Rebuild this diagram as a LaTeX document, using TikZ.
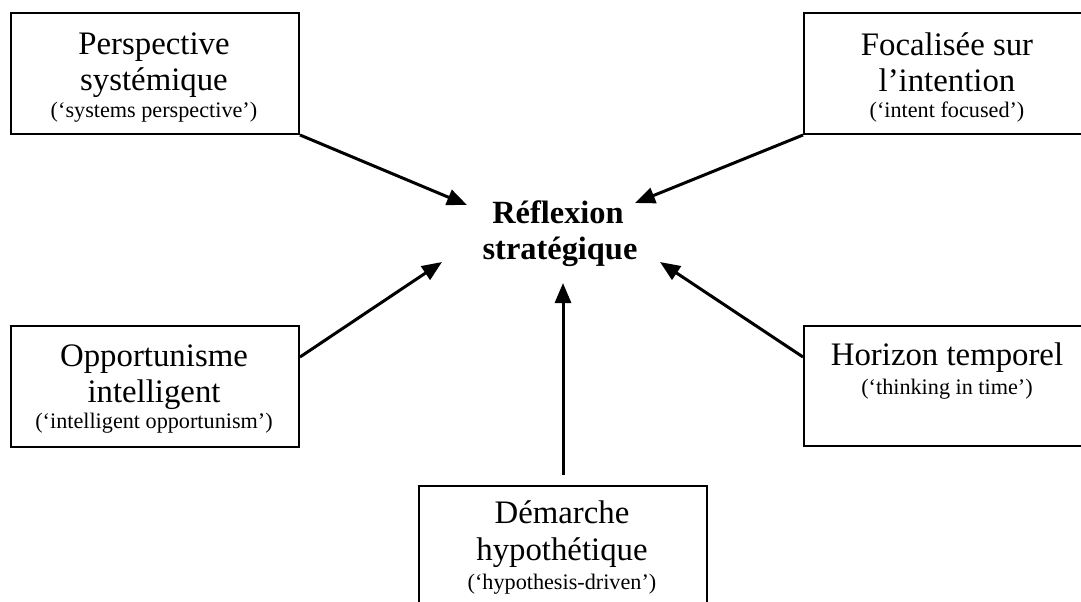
\documentclass[tikz,border=0pt]{standalone}
\usepackage{fontspec}
\setmainfont{Liberation Serif}
\usetikzlibrary{arrows.meta}
\begin{document}
\begin{tikzpicture}[x=0.5pt,y=-0.5pt,
  box/.style={draw, line width=1pt, rectangle, inner sep=0pt, anchor=north west},
  big/.style={font=\fontsize{16.4}{19}\selectfont, anchor=base, inner sep=0pt},
  bigb/.style={font=\fontsize{16.2}{19}\selectfont\bfseries, anchor=base, inner sep=0pt},
  small/.style={font=\fontsize{11.1}{13}\selectfont, anchor=base, inner sep=0pt},
  arr/.style={line width=1.5pt, -{Triangle[length=10pt,width=8pt]}}]
\useasboundingbox (0,0) rectangle (1081,601);
\clip (0,0) rectangle (1081,601);
% boxes
\node[box, minimum width=144pt, minimum height=60.5pt] (tl) at (10,12) {};
\node[box, minimum width=145pt, minimum height=60.5pt] (tr) at (803,12) {};
\node[box, minimum width=144pt, minimum height=60.5pt] (ml) at (10,325) {};
\node[box, minimum width=145pt, minimum height=60pt] (mr) at (803,325) {};
\node[box, minimum width=144pt, minimum height=70pt] (bt) at (418,485) {};
% texts
\node[big] (tl1) at (154,54) {Perspective};
\node[big] (tl2) at (154,90) {systémique};
\node[small] (tl3) at (154,117) {(‘systems perspective’)};
\node[big] (tr1) at (947,55) {Focalisée sur};
\node[big] (tr2) at (947,91) {l’intention};
\node[small] (tr3) at (947,117) {(‘intent focused’)};
\node[big] (ml1) at (154,366) {Opportunisme};
\node[big] (ml2) at (154,402) {intelligent};
\node[small] (ml3) at (154,428) {(‘intelligent opportunism’)};
\node[big] (mr1) at (947,365) {Horizon temporel};
\node[small] (mr2) at (947,394) {(‘thinking in time’)};
\node[big] (bt1) at (562,523) {Démarche};
\node[big] (bt2) at (562,560) {hypothétique};
\node[small] (bt3) at (562,589) {(‘hypothesis-driven’)};
\node[bigb] (c1) at (558,223) {Réflexion};
\node[bigb] (c2) at (560,259) {stratégique};
% arrow tips
\coordinate (ttl) at (467,205);
\coordinate (ttr) at (635,203);
\coordinate (tml) at (442,262);
\coordinate (tmr) at (660,262);
\coordinate (tbt) at (563,283);
\coordinate (sbt) at (563,475);
\draw[arr] (tl.south east) -- (ttl);
\draw[arr] (tr.south west) -- (ttr);
\draw[arr] ([yshift=-16pt]ml.north east) -- (tml);
\draw[arr] ([yshift=-16pt]mr.north west) -- (tmr);
\draw[arr] (sbt) -- (tbt);
\end{tikzpicture}
\end{document}
